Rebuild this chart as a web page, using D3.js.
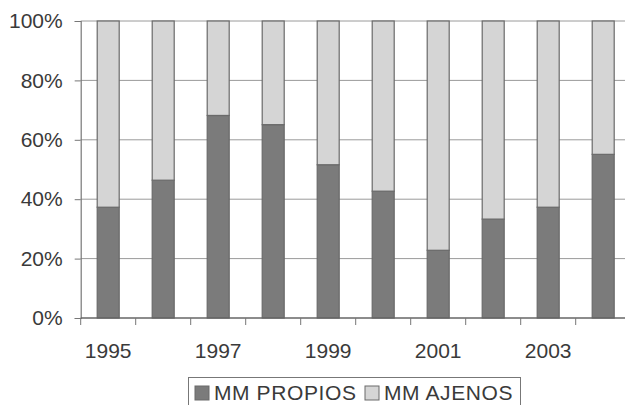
<!DOCTYPE html>
<html>
<head>
<meta charset="utf-8">
<script src="https://cdn.jsdelivr.net/npm/d3@7"></script>
<style>
  body { margin: 0; background: #fff; }
  text { font-family: "Liberation Sans", Arial, sans-serif; fill: #3a3a3a; }
</style>
</head>
<body>
<div class="content"></div>
<script>
const SVGWIDTH = 625;
const SVGHEIGHT = 405;

// data
const years = [1995, 1996, 1997, 1998, 1999, 2000, 2001, 2002, 2003, 2004];
const propios = [37.3, 46.4, 68.2, 65.1, 51.6, 42.7, 22.8, 33.3, 37.3, 55.1];
const ajenos = propios.map(v => 100 - v);
const yTicks = [0, 20, 40, 60, 80, 100];
const xLabels = [1995, 1997, 1999, 2001, 2003];
const seriesNames = ["MM PROPIOS", "MM AJENOS"];
const seriesColors = ["#7b7b7b", "#d5d5d5"];

const plotLeft = 80.7, plotRight = 630.7, plotTop = 21, plotBottom = 318;

const svg = d3.select(".content").append("svg")
    .attr("width", SVGWIDTH).attr("height", SVGHEIGHT);

const xscale = d3.scaleBand()
    .domain(years)
    .range([plotLeft, plotRight])
    .paddingInner(0.6)
    .paddingOuter(0.3);

const yscale = d3.scaleLinear()
    .domain([0, 100])
    .range([plotBottom, plotTop]);

// gridlines
svg.append("g").attr("id", "grid")
    .selectAll("line")
    .data(yTicks.filter(d => d > 0))
    .join("line")
    .attr("x1", plotLeft).attr("x2", SVGWIDTH)
    .attr("y1", d => yscale(d)).attr("y2", d => yscale(d))
    .attr("stroke", "#9a9a9a").attr("stroke-width", 1);

// stacked bars
const stackData = years.map((y, i) => ({ year: y, propios: propios[i], ajenos: ajenos[i] }));
const stack = d3.stack().keys(["propios", "ajenos"])(stackData);

svg.append("g").attr("id", "bars")
    .selectAll("g")
    .data(stack)
    .join("g")
    .attr("fill", (d, i) => seriesColors[i])
    .selectAll("rect")
    .data(d => d)
    .join("rect")
    .attr("x", d => xscale(d.data.year))
    .attr("y", d => yscale(d[1]))
    .attr("width", xscale.bandwidth())
    .attr("height", d => yscale(d[0]) - yscale(d[1]))
    .attr("stroke", "#6a6a6a")
    .attr("stroke-width", 1.2);

// y axis
const yaxis = d3.axisLeft(yscale).tickValues(yTicks).tickSize(6).tickPadding(12)
    .tickFormat(d => d + "%");
const yg = svg.append("g").attr("transform", `translate(${plotLeft},0)`).call(yaxis);
yg.select(".domain").attr("stroke", "#777").attr("stroke-width", 1.2);
yg.selectAll(".tick line").attr("stroke", "#777");
yg.selectAll(".tick text").style("font-size", "21px").attr("fill", "#3a3a3a");

// x axis: ticks between categories
const xg = svg.append("g").attr("id", "x-axis");
xg.append("line")
    .attr("x1", plotLeft).attr("x2", SVGWIDTH)
    .attr("y1", plotBottom).attr("y2", plotBottom)
    .attr("stroke", "#666").attr("stroke-width", 1.5);
xg.selectAll(".xt")
    .data(years)
    .join("line")
    .classed("xt", true)
    .attr("x1", d => xscale(d) - xscale.step() * 0.3)
    .attr("x2", d => xscale(d) - xscale.step() * 0.3)
    .attr("y1", plotBottom).attr("y2", plotBottom + 7)
    .attr("stroke", "#777");
xg.selectAll("text")
    .data(xLabels)
    .join("text")
    .attr("x", d => xscale(d) + xscale.bandwidth() / 2)
    .attr("y", 358)
    .attr("text-anchor", "middle")
    .style("font-size", "21px")
    .text(d => d);

// legend
const lg = svg.append("g").attr("id", "legend");
lg.append("rect")
    .attr("x", 188.5).attr("y", 377.5)
    .attr("width", 332).attr("height", 40)
    .attr("fill", "none").attr("stroke", "#777");
const legendX = [195, 365];
seriesNames.forEach((name, i) => {
    lg.append("rect")
        .attr("x", legendX[i]).attr("y", 386)
        .attr("width", 14).attr("height", 14)
        .attr("fill", seriesColors[i]).attr("stroke", "#6a6a6a");
    lg.append("text")
        .attr("x", legendX[i] + 19).attr("y", 399.5)
        .style("font-size", "21px")
        .style("letter-spacing", "0.6px")
        .text(name);
});
</script>
</body>
</html>
